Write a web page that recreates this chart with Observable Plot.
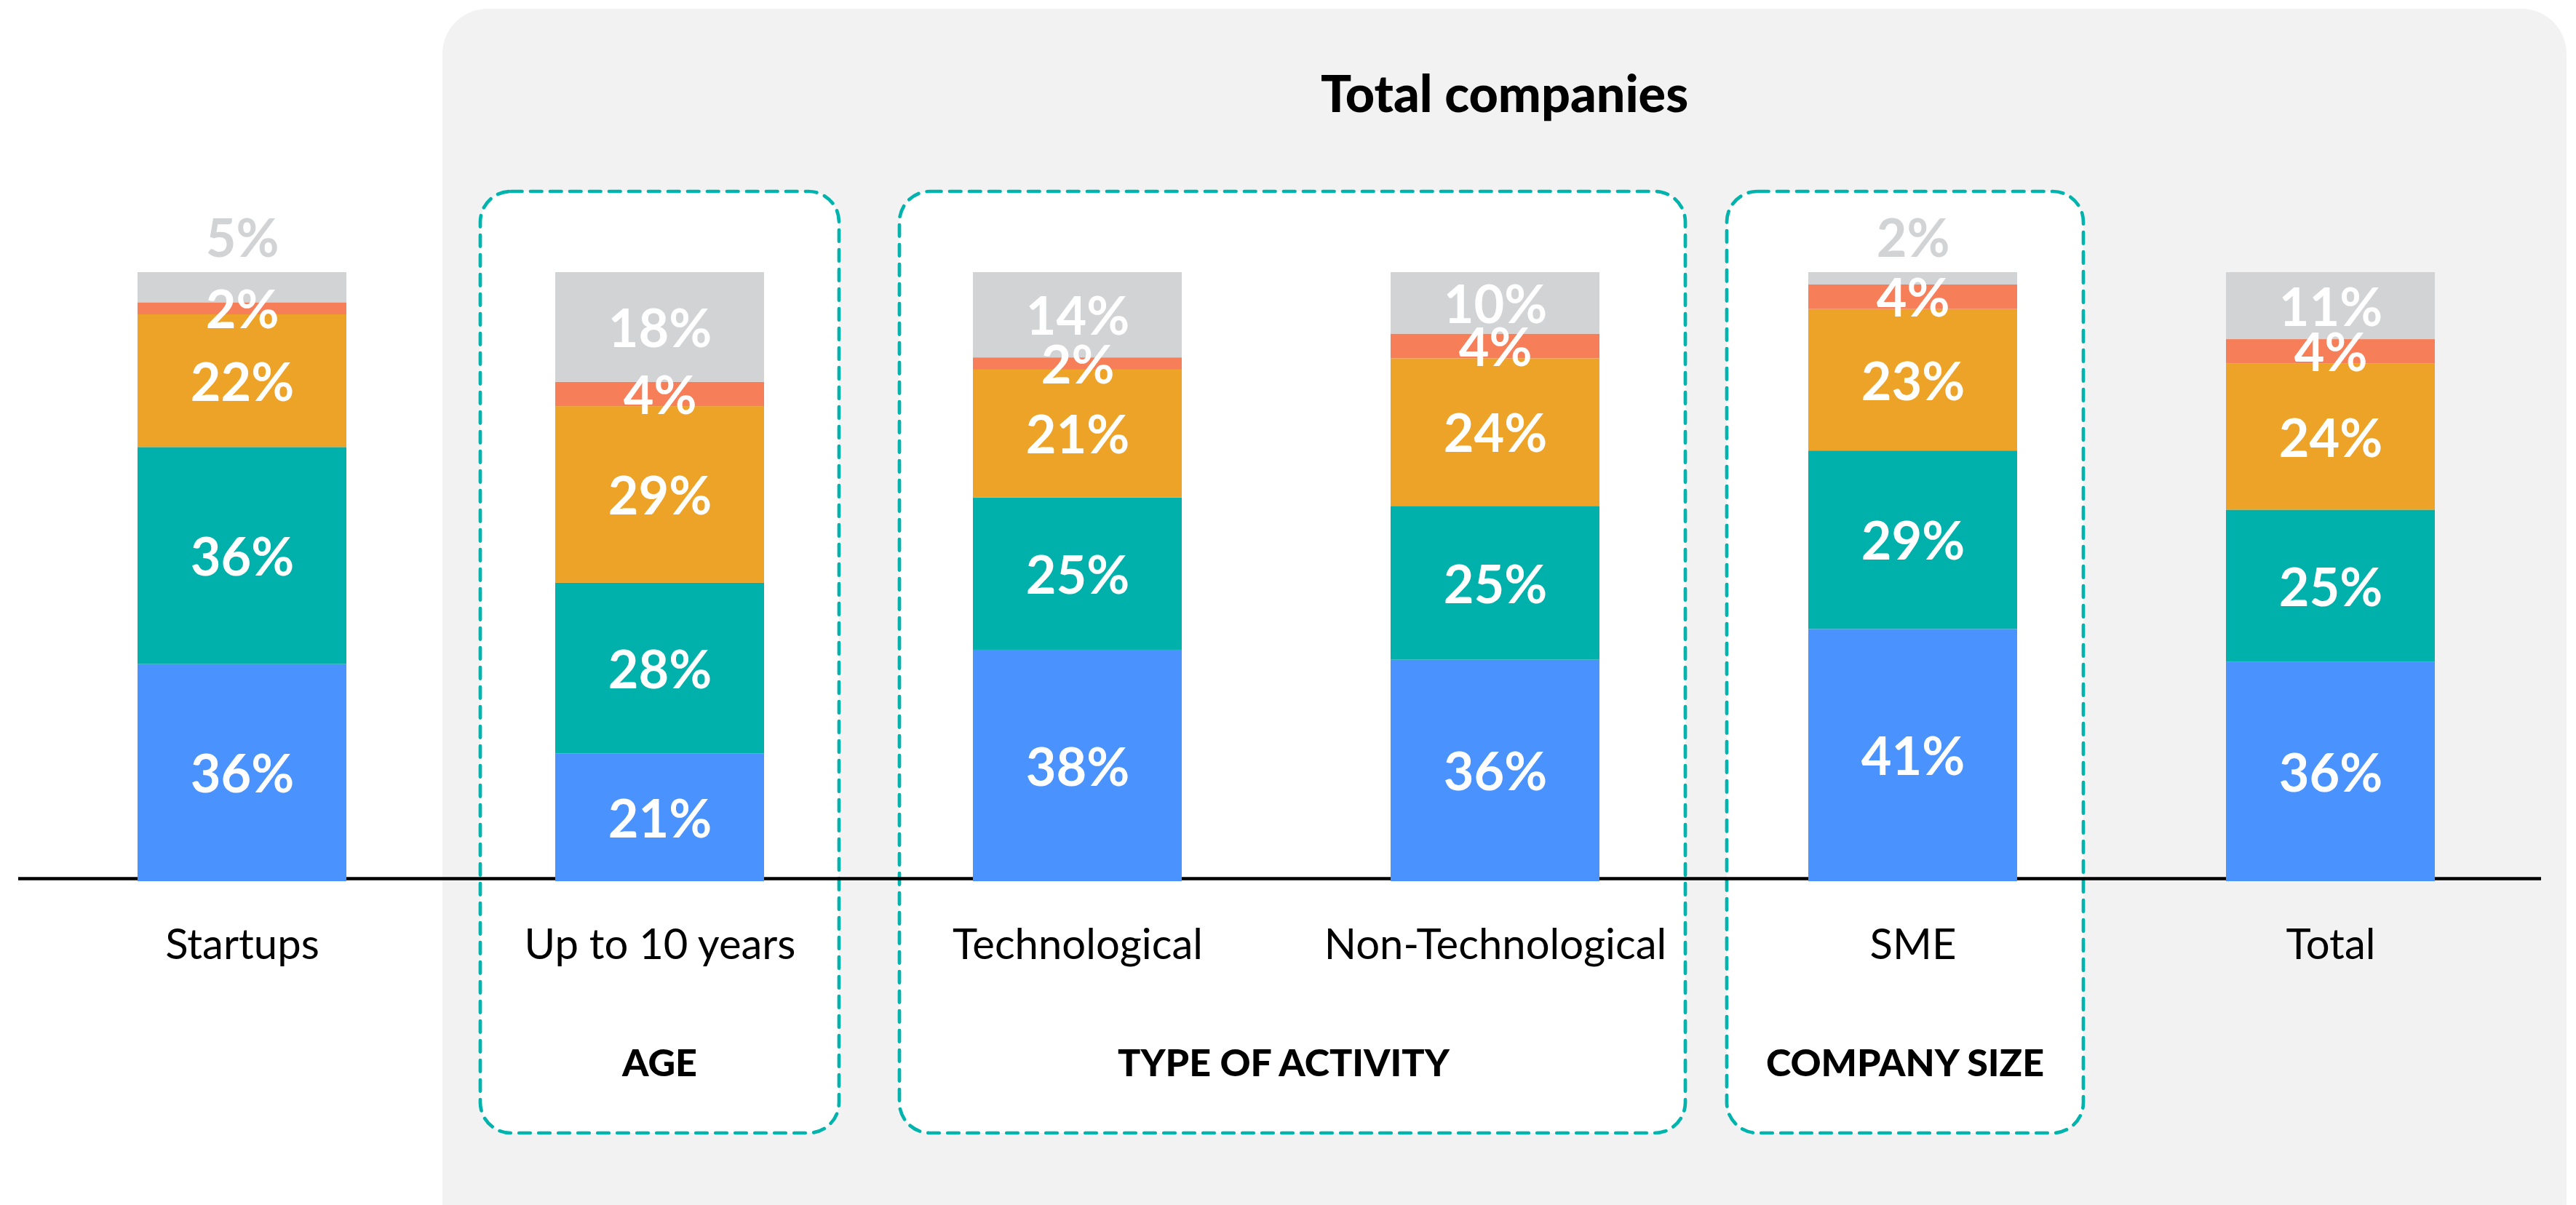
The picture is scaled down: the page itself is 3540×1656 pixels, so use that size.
<!DOCTYPE html>
<html>
<head>
<meta charset="utf-8">
<script src="https://cdn.jsdelivr.net/npm/d3@7"></script>
<script src="https://cdn.jsdelivr.net/npm/@observablehq/plot@0.6"></script>
<style>
  html, body { margin: 0; padding: 0; background: #ffffff; }
  #chart svg { display: block; }
</style>
</head>
<body>
<div id="chart"></div>
<script>
// ---- Data ----
const categories = ["Startups", "Up to 10 years", "Technological", "Non-Technological", "SME", "Total"];
const seriesNames = ["Segment 1", "Segment 2", "Segment 3", "Segment 4", "Segment 5"];
const seriesColors = ["#4a93fe", "#00b0ab", "#eca327", "#f67e59", "#d2d3d5"];
const segment1 = [36, 21, 38, 36, 41, 36];
const segment2 = [36, 28, 25, 25, 29, 25];
const segment3 = [22, 29, 21, 24, 23, 24];
const segment4 = [2, 4, 2, 4, 4, 4];
const segment5 = [5, 18, 14, 10, 2, 11];
const groupLabels = ["AGE", "TYPE OF ACTIVITY", "COMPANY SIZE"];
const groupMembers = [["Up to 10 years"], ["Technological", "Non-Technological"], ["SME"]];
const panelTitle = "Total companies";
const panelMembers = ["Up to 10 years", "Technological", "Non-Technological", "SME", "Total"];

const seriesValues = [segment1, segment2, segment3, segment4, segment5];
const data = seriesNames.flatMap((s, i) =>
  categories.map((c, j) => ({category: c, series: s, value: seriesValues[i][j]}))
);
const isOutside = d => d.series === seriesNames[4] && d.value <= 5;

const FONT = "Lato, 'Open Sans', sans-serif";

const plot = Plot.plot({
  width: 3540,
  height: 1656,
  marginTop: 374,
  marginBottom: 445,
  marginLeft: 25,
  marginRight: 48,
  style: {background: "transparent", fontFamily: FONT, fontSize: "58px", color: "#000", overflow: "visible"},
  x: {domain: categories, paddingInner: 0.5, paddingOuter: 0.27, align: 0.53, tickSize: 0, tickPadding: 65, label: null},
  y: {axis: null, domain: [0, 1]},
  color: {domain: seriesNames, range: seriesColors},
  marks: [
    Plot.ruleY([0], {dy: -4, stroke: "#000", strokeWidth: 4.5}),
    Plot.barY(data, Plot.stackY({x: "category", y: "value", fill: "series", offset: "normalize"})),
    Plot.text(data, Plot.stackY({
      x: "category", y: "value", z: "series", offset: "normalize",
      text: d => isOutside(d) ? null : `${d.value}%`,
      fill: "#ffffff", fontSize: 72, fontWeight: "bold", dy: 4
    })),
    Plot.text(data, Plot.stackY2({
      x: "category", y: "value", z: "series", offset: "normalize",
      text: d => isOutside(d) ? `${d.value}%` : null,
      fill: "#d2d3d5", fontSize: 72, fontWeight: "bold", dy: -45
    }))
  ]
});

// ---- Decorations positioned from the plot's own scales ----
const sx = plot.scale("x");
const sy = plot.scale("y");
const bw = sx.bandwidth;
const X = c => sx.apply(c);
const yTop = sy.apply(1);

const deco = d3.create("svg:g");
const panelLeft = X(panelMembers[0]) - 155;
const panelRight = X(panelMembers[panelMembers.length - 1]) + bw + 181;
deco.append("rect")
  .attr("x", panelLeft).attr("y", 12)
  .attr("width", panelRight - panelLeft).attr("height", 1700)
  .attr("rx", 62).attr("fill", "#f1f2f1");

deco.append("text")
  .attr("x", (panelLeft + panelRight) / 2).attr("y", 154)
  .attr("text-anchor", "middle")
  .attr("font-family", FONT).attr("font-weight", 900).attr("font-size", 70)
  .attr("fill", "#000")
  .text(panelTitle);

const boxPadLeft = [103, 101, 112];
const boxPadRight = [103, 118, 91];
groupMembers.forEach((members, i) => {
  const x1 = X(members[0]) - boxPadLeft[i];
  const x2 = X(members[members.length - 1]) + bw + boxPadRight[i];
  const y1 = yTop - 111, y2 = 1557;
  deco.append("rect")
    .attr("x", x1).attr("y", y1)
    .attr("width", x2 - x1).attr("height", y2 - y1)
    .attr("rx", 42)
    .attr("fill", "#ffffff")
    .attr("stroke", "#00b3ac").attr("stroke-width", 4.7)
    .attr("stroke-dasharray", "15.5 11.5").attr("stroke-linecap", "round");
  deco.append("text")
    .attr("x", (x1 + x2) / 2 - (members.length > 1 ? 12 : 0)).attr("y", 1479)
    .attr("text-anchor", "middle")
    .attr("font-family", FONT).attr("font-weight", 900).attr("font-size", 52)
    .attr("fill", "#000")
    .text(groupLabels[i]);
});

const styleEl = plot.querySelector("style");
plot.insertBefore(deco.node(), styleEl ? styleEl.nextSibling : plot.firstChild);

document.getElementById("chart").appendChild(plot);
</script>
</body>
</html>
